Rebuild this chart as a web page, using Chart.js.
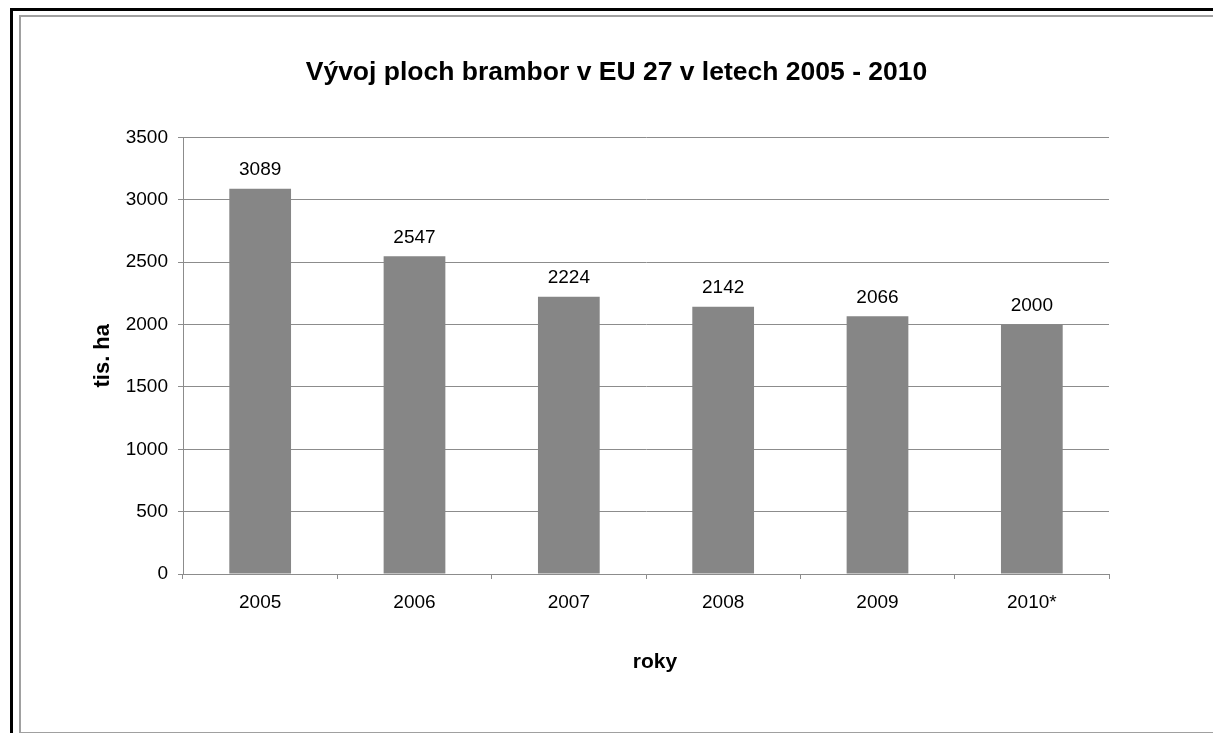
<!DOCTYPE html>
<html>
<head>
<meta charset="utf-8">
<script src="https://cdn.jsdelivr.net/npm/chart.js@4.4.1/dist/chart.umd.min.js"></script>
<style>
  html, body { margin: 0; padding: 0; background: #fff; overflow: hidden; }
  #wrap { position: relative; width: 1213px; height: 733px; }
  #outer { position: absolute; left: 10px; top: 8px; width: 1400px; height: 1000px; border-left: 3px solid #000; border-top: 3px solid #000; }
  #inner { position: absolute; left: 19px; top: 15px; width: 1400px; height: 715px; border: 2px solid #a0a0a0; }
  canvas { position: absolute; left: 0; top: 0; }
</style>
</head>
<body>
<div id="wrap">
  <div id="outer"></div>
  <div id="inner"></div>
  <canvas id="c" width="1213" height="733"></canvas>
</div>
<script>
const categories = ["2005", "2006", "2007", "2008", "2009", "2010*"];
const areaValues = [3089, 2547, 2224, 2142, 2066, 2000];
const yTicks = [0, 500, 1000, 1500, 2000, 2500, 3000, 3500];
const chartTitle = "Vývoj ploch brambor v EU 27 v letech 2005 - 2010";
const yTitle = "tis. ha";
const xTitle = "roky";

const FONT = "'Liberation Sans', Arial, sans-serif";
const GRID = "#8c8c8c";

const valueLabels = {
  id: "valueLabels",
  afterDatasetsDraw(chart) {
    const ctx = chart.ctx;
    const meta = chart.getDatasetMeta(0);
    ctx.save();
    ctx.font = "19px " + FONT;
    ctx.fillStyle = "#000";
    ctx.textAlign = "center";
    ctx.textBaseline = "middle";
    meta.data.forEach((bar, i) => {
      ctx.fillText(String(chart.data.datasets[0].data[i]), bar.x, bar.y - 19);
    });
    ctx.restore();
  }
};

const xAxisTitle = {
  id: "xAxisTitle",
  afterDraw(chart) {
    const ctx = chart.ctx;
    const area = chart.chartArea;
    ctx.save();
    ctx.font = "bold 21px " + FONT;
    ctx.fillStyle = "#000";
    ctx.textAlign = "center";
    ctx.textBaseline = "middle";
    ctx.fillText(xTitle, (area.left + area.right) / 2 + 9, area.bottom + 88);
    ctx.restore();
  }
};

new Chart(document.getElementById("c"), {
  type: "bar",
  data: {
    labels: categories,
    datasets: [{
      data: areaValues,
      backgroundColor: "#868686",
      borderWidth: 0,
      categoryPercentage: 1,
      barPercentage: 0.4,
      yAxisID: "y"
    }]
  },
  options: {
    responsive: false,
    animation: false,
    devicePixelRatio: 1,
    layout: { padding: { left: 20, right: 0, top: 0, bottom: 0 } },
    plugins: {
      legend: { display: false },
      tooltip: { enabled: false },
      title: {
        display: true,
        text: chartTitle,
        color: "#000",
        font: { family: FONT, size: 26.5, weight: "bold", lineHeight: 1.2 },
        padding: { top: 57.2, bottom: 48.5 }
      }
    },
    scales: {
      x: {
        grid: { display: true, drawOnChartArea: false, drawTicks: true, tickLength: 5, color: GRID, offset: true },
        border: { display: true, color: GRID, width: 1 },
        ticks: { color: "#000", font: { family: FONT, size: 19 }, padding: 12, maxRotation: 0 },
        title: { display: false },
        afterFit(s) { s.height = 159; }
      },
      y: {
        position: "left",
        min: 0,
        max: 3500,
        afterBuildTicks(s) { s.ticks = yTicks.map(v => ({ value: v })); },
        grid: { color: GRID, drawTicks: true, tickLength: 5 },
        border: { display: true, color: GRID, width: 1 },
        ticks: { color: "#000", font: { family: FONT, size: 19 }, padding: 10, callback: v => String(v) },
        title: { display: true, text: yTitle, color: "#000", font: { family: FONT, size: 22, weight: "bold", lineHeight: 1.2 }, padding: { top: 70, bottom: 0 } },
        afterFit(s) { s.width = 163; }
      },
      yR: {
        type: "linear",
        position: "right",
        display: true,
        grid: { display: false, drawTicks: false },
        border: { display: false },
        ticks: { display: false },
        afterFit(s) { s.width = 104; }
      }
    }
  },
  plugins: [valueLabels, xAxisTitle]
});
</script>
</body>
</html>
